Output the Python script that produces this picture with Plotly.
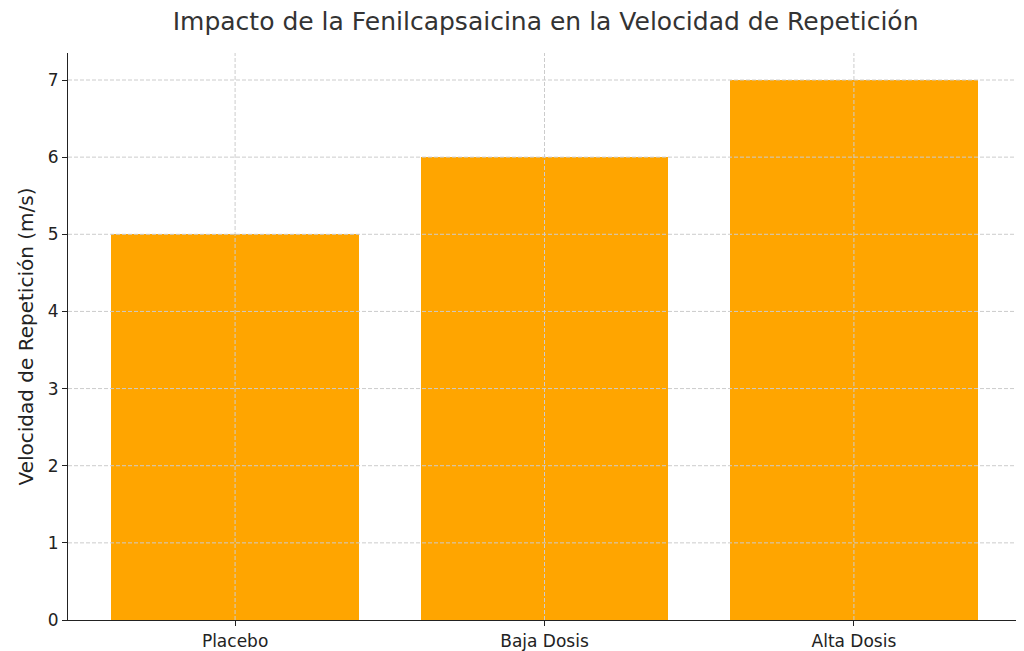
import plotly.graph_objects as go

categories = ["Placebo", "Baja Dosis", "Alta Dosis"]
velocidad = [5, 6, 7]
y_ticks = [0, 1, 2, 3, 4, 5, 6, 7]

fig = go.Figure(go.Bar(
    x=[0, 1, 2],
    y=velocidad,
    width=0.8,
    marker=dict(color="#FFA500", line=dict(width=0)),
))

# matplotlib-style dashed grid drawn over the bars
dash = dict(color="#cccccc", width=1, dash="4px,2px")
for t in y_ticks[1:]:
    fig.add_shape(type="line", xref="paper", yref="y", x0=0, x1=1, y0=t, y1=t,
                  line=dash, layer="above")
for i in range(len(categories)):
    fig.add_shape(type="line", xref="x", yref="paper", x0=i, x1=i, y0=0, y1=1,
                  line=dash, layer="above")

fig.update_layout(
    width=1024, height=651,
    paper_bgcolor="white", plot_bgcolor="white",
    font=dict(family="DejaVu Sans", size=17, color="#222222"),
    title=dict(text="Impacto de la Fenilcapsaicina en la Velocidad de Repetición",
               x=0.525, xanchor="center", y=0.993, yanchor="top",
               font=dict(size=25, color="#333333")),
    margin=dict(l=60, r=11, t=45, b=39),
    showlegend=False,
    bargap=0,
)
fig.update_xaxes(range=[-0.54, 2.54], tickvals=[0, 1, 2], ticktext=categories,
                 showline=True, linecolor="#222222", linewidth=1.2,
                 ticks="outside", ticklen=5, tickcolor="#222222",
                 zeroline=False, showgrid=False, automargin=False)
fig.update_yaxes(range=[0, 7.35], tickvals=y_ticks,
                 title=dict(text="Velocidad de Repetición (m/s)", standoff=8),
                 showline=True, linecolor="#222222", linewidth=1.2,
                 ticks="outside", ticklen=5, tickcolor="#222222",
                 zeroline=False, showgrid=False, automargin=False)

fig.write_html("out.html")
